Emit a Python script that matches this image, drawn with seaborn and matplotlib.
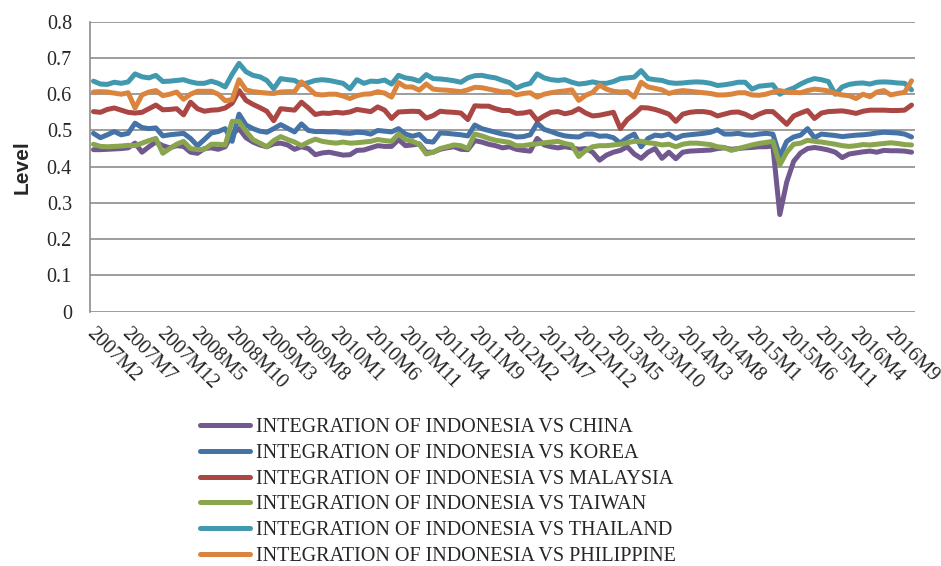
import numpy as np
import pandas as pd
import matplotlib
matplotlib.use("Agg")
import matplotlib.pyplot as plt
import matplotlib.transforms as mtransforms
import seaborn as sns

# --- data (monthly, 2007M2 .. 2016M12) ---
china = [
    .447, .447, .448, .449, .450, .452, .465, .440, .455, .468, .458, .452, .458, .456, .440, .437, .450, .452, .448, .455, .490, .505,
    .480, .468, .460, .455, .463, .465, .460, .448, .455, .450, .433, .438, .440, .436, .432, .433, .445, .446, .452,
    .458, .456, .456, .475, .458, .460, .463, .440, .440, .448, .452, .455, .448, .447, .472, .468, .462, .458, .452,
    .455, .448, .445, .443, .478, .460, .455, .452, .455, .452, .448, .450, .440, .418, .432, .440, .445, .455, .435, .423,
    .440, .450, .423, .440, .422, .440, .443, .444, .445, .446, .450, .452, .448, .450, .452, .453, .455, .455, .457, .268,
    .358, .415, .438, .450, .453, .450, .446, .440, .425, .435, .438, .441, .443, .440, .445, .444, .444, .443, .440,
]
korea = [
    .492, .480, .488, .497, .488, .492, .520, .508, .505, .507, .485, .488, .490, .492, .478, .458, .475, .493, .497, .505, .470, .545,
    .515, .505, .498, .495, .505, .516, .506, .496, .518, .500, .497, .497, .496, .496, .493, .492, .495, .494, .490,
    .500, .498, .496, .505, .490, .484, .489, .470, .468, .493, .492, .490, .488, .485, .515, .505, .500, .495, .490,
    .487, .482, .483, .488, .520, .503, .497, .490, .485, .483, .482, .490, .490, .484, .485, .480, .465, .480, .490, .455,
    .478, .487, .485, .490, .478, .486, .488, .490, .492, .495, .502, .490, .490, .492, .488, .487, .490, .492, .490, .428,
    .470, .482, .487, .505, .480, .490, .488, .486, .483, .485, .487, .488, .490, .493, .495, .494, .493, .490, .482,
]
malaysia = [
    .552, .550, .558, .562, .556, .550, .548, .550, .560, .570, .557, .558, .560, .543, .578, .560, .553, .556, .557, .562, .575, .610,
    .583, .572, .563, .553, .527, .560, .558, .556, .578, .562, .544, .548, .547, .550, .548, .551, .558, .555, .552,
    .565, .556, .533, .551, .552, .553, .552, .534, .541, .553, .551, .550, .548, .530, .568, .567, .567, .560, .555,
    .555, .547, .548, .552, .528, .540, .550, .552, .546, .550, .560, .548, .540, .542, .546, .550, .505, .530, .545, .563,
    .562, .558, .552, .545, .525, .545, .550, .552, .552, .549, .540, .545, .550, .551, .545, .535, .545, .552, .552, .535,
    .517, .540, .548, .555, .533, .548, .552, .553, .554, .551, .547, .553, .556, .556, .556, .555, .555, .556, .570,
]
taiwan = [
    .462, .456, .455, .456, .457, .459, .458, .465, .472, .478, .437, .450, .462, .470, .450, .447, .448, .462, .462, .460, .525, .525,
    .498, .475, .465, .455, .472, .483, .475, .468, .458, .468, .476, .470, .467, .465, .468, .465, .466, .468, .470,
    .475, .472, .470, .490, .475, .470, .462, .435, .440, .450, .455, .460, .458, .450, .490, .485, .478, .473, .470,
    .467, .458, .458, .461, .463, .466, .468, .470, .464, .460, .428, .445, .455, .458, .458, .460, .462, .466, .470, .470,
    .466, .464, .460, .462, .455, .462, .465, .465, .463, .461, .455, .453, .445, .450, .455, .460, .464, .467, .470, .405,
    .440, .462, .465, .473, .470, .468, .465, .462, .458, .456, .458, .461, .460, .462, .464, .466, .464, .461, .460,
]
thailand = [
    .636, .628, .627, .633, .630, .634, .656, .648, .645, .652, .635, .636, .638, .640, .634, .630, .630, .636, .630, .620, .655, .685,
    .662, .652, .648, .638, .615, .643, .640, .638, .627, .632, .638, .640, .638, .634, .630, .615, .640, .630, .636,
    .635, .639, .628, .652, .645, .642, .636, .654, .643, .642, .640, .637, .633, .645, .651, .652, .648, .645, .638,
    .632, .617, .625, .630, .656, .645, .640, .638, .640, .633, .628, .630, .634, .630, .630, .635, .643, .645, .647, .665,
    .643, .640, .638, .632, .630, .631, .633, .634, .633, .630, .624, .626, .629, .633, .633, .614, .622, .624, .626, .600,
    .610, .617, .628, .637, .643, .640, .635, .600, .620, .627, .630, .631, .628, .633, .634, .633, .631, .630, .612,
]
philippine = [
    .606, .607, .606, .603, .600, .604, .562, .598, .606, .610, .596, .600, .606, .586, .600, .608, .608, .608, .600, .582, .585, .640,
    .612, .607, .605, .603, .602, .606, .607, .607, .634, .617, .600, .598, .600, .600, .595, .588, .596, .600, .601,
    .607, .603, .592, .632, .620, .620, .611, .628, .614, .612, .611, .609, .607, .612, .619, .618, .614, .610, .606,
    .607, .598, .602, .604, .592, .600, .604, .607, .609, .612, .583, .597, .605, .625, .614, .608, .606, .607, .592, .633,
    .620, .616, .612, .602, .607, .610, .608, .606, .604, .602, .598, .598, .600, .604, .604, .598, .597, .600, .606, .610,
    .606, .605, .604, .610, .614, .612, .609, .602, .598, .596, .588, .600, .593, .606, .610, .598, .602, .605, .637,
]

series_names = [
    "INTEGRATION OF INDONESIA VS CHINA",
    "INTEGRATION OF INDONESIA VS KOREA",
    "INTEGRATION OF INDONESIA VS MALAYSIA",
    "INTEGRATION OF INDONESIA VS TAIWAN",
    "INTEGRATION OF INDONESIA VS THAILAND",
    "INTEGRATION OF INDONESIA VS PHILIPPINE",
]
colors = ["#71588F", "#4572A7", "#AA4643", "#89A54E", "#4198AF", "#DB843D"]

tick_labels = [
    "2007M2", "2007M7", "2007M12", "2008M5", "2008M10", "2009M3", "2009M8", "2010M1",
    "2010M6", "2010M11", "2011M4", "2011M9", "2012M2", "2012M7", "2012M12", "2013M5",
    "2013M10", "2014M3", "2014M8", "2015M1", "2015M6", "2015M11", "2016M4", "2016M9",
]

all_series = [china, korea, malaysia, taiwan, thailand, philippine]
n = len(china)
frames = []
for name, vals in zip(series_names, all_series):
    frames.append(pd.DataFrame({"t": np.arange(n), "level": vals, "series": name}))
df = pd.concat(frames, ignore_index=True)

# --- plot ---
sns.set_theme(style="white")
plt.rcParams["font.family"] = ["Liberation Serif", "DejaVu Serif"]

fig = plt.figure(figsize=(9.41, 5.66), dpi=100)
ax = fig.add_axes([90 / 941, 1 - 311.7 / 566, 825 / 941, (311.7 - 21.7) / 566])

sns.lineplot(data=df, x="t", y="level", hue="series", hue_order=series_names,
             palette=colors, linewidth=3.6, ax=ax, legend=True)

ax.set_xlim(-0.5, n - 0.5)
ax.set_ylim(0, 0.8)
ax.set_yticks(np.arange(0, 0.81, 0.1))
ax.set_yticklabels(["0"] + [f"{v:.1f}" for v in np.arange(0.1, 0.81, 0.1)], fontsize=14.5)
ax.yaxis.grid(True, color="#8c8c8c", linewidth=1.2)
ax.set_axisbelow(True)
for s in ["top", "right", "bottom"]:
    ax.spines[s].set_visible(False)
ax.spines["left"].set_color("#8c8c8c")
ax.spines["left"].set_linewidth(1.2)
ax.tick_params(axis="both", length=0)
ax.tick_params(axis="y", pad=13)

ax.set_xticks(np.arange(0, n, 5))
ax.set_xticklabels(tick_labels, fontsize=14.5, rotation=-45, ha="left", va="top",
                   rotation_mode="anchor")
ax.tick_params(axis="x", pad=9)
shift = mtransforms.ScaledTranslation(3 / 100, 0, fig.dpi_scale_trans)
for lab in ax.get_xticklabels():
    lab.set_transform(lab.get_transform() + shift)

ax.set_xlabel("")
ax.set_ylabel("Level", fontsize=15, fontweight="bold", family="Liberation Sans")
ax.yaxis.set_label_coords(-0.071, 0.5)

handles, labels = ax.get_legend_handles_labels()
ax.get_legend().remove()
fig.legend(handles, labels, loc="upper left", bbox_to_anchor=(200 / 941, 1 - 418 / 566),
           frameon=False, fontsize=14.5, handlelength=2.5, handletextpad=0.27,
           labelspacing=0.33, borderpad=0, borderaxespad=0)

fig.savefig("out.png", dpi=100)
